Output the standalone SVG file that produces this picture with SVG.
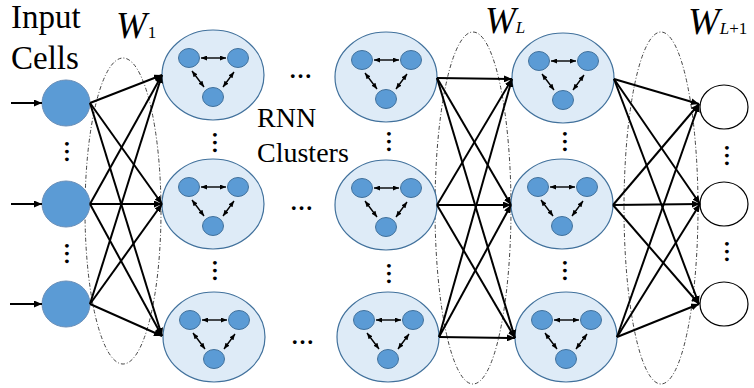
<svg xmlns="http://www.w3.org/2000/svg" xmlns:xlink="http://www.w3.org/1999/xlink" width="754" height="388" viewBox="0 0 754 388">
<style>
text{font-family:'Liberation Serif','Times New Roman','DejaVu Serif',serif;fill:#000}
.w{font-style:italic}
.sub{font-size:17px}
.dots{font-weight:bold;font-size:23px}
.conn{stroke:#000;stroke-width:2;fill:none;marker-end:url(#ah)}
.inner{stroke:#000;stroke-width:1.4;fill:none;marker-end:url(#sh);marker-start:url(#shs)}
.cl{fill:#DEEBF7;stroke:#41719C;stroke-width:1.2}
.nd{fill:#5B9BD5;stroke:#41719C;stroke-width:1}
.in{fill:#5B9BD5;stroke:#6A8FB8;stroke-width:1}
.out{fill:#fff;stroke:#000;stroke-width:1.2}
.grp{fill:none;stroke:#444;stroke-width:1;stroke-dasharray:4 2 1 2}
</style>
<defs>
<marker id="ah" viewBox="0 0 8 7" refX="8" refY="3.5" markerWidth="8" markerHeight="7" markerUnits="userSpaceOnUse" orient="auto"><path d="M0,0 L8,3.5 L0,7 z" fill="#000"/></marker>
<marker id="sh" viewBox="0 0 6 5" refX="6" refY="2.5" markerWidth="6" markerHeight="5" markerUnits="userSpaceOnUse" orient="auto"><path d="M0,0 L6,2.5 L0,5 z" fill="#000"/></marker>
<marker id="shs" viewBox="0 0 6 5" refX="0" refY="2.5" markerWidth="6" markerHeight="5" markerUnits="userSpaceOnUse" orient="auto"><path d="M6,0 L0,2.5 L6,5 z" fill="#000"/></marker>
<g id="cluster">
<ellipse class="cl" cx="0" cy="0" rx="51" ry="45"/>
<ellipse class="nd" cx="-24" cy="-17" rx="10.5" ry="9.5"/>
<ellipse class="nd" cx="25" cy="-17" rx="10.5" ry="9.5"/>
<ellipse class="nd" cx="0" cy="22" rx="10.5" ry="9.5"/>
<line class="inner" x1="-12" y1="-17" x2="13" y2="-17"/>
<line class="inner" x1="-21" y1="-4" x2="-9" y2="12"/>
<line class="inner" x1="21" y1="-3" x2="10" y2="12"/>
</g>
</defs>

<g id="weight-groups">
<ellipse class="grp" cx="123" cy="211" rx="38" ry="153"/>
<ellipse class="grp" cx="473" cy="208" rx="38" ry="176"/>
<ellipse class="grp" cx="661" cy="208" rx="37" ry="176"/>
</g>

<g id="in1"><ellipse class="in" cx="66" cy="103" rx="24" ry="23"/></g>
<g id="in2"><ellipse class="in" cx="66" cy="204" rx="24" ry="23"/></g>
<g id="in3"><ellipse class="in" cx="66" cy="304" rx="24" ry="23"/></g>

<g id="c11"><use xlink:href="#cluster" x="213" y="75"/></g>
<g id="c12"><use xlink:href="#cluster" x="213" y="204"/></g>
<g id="c13"><use xlink:href="#cluster" x="214" y="337"/></g>
<g id="c21"><use xlink:href="#cluster" x="386" y="77"/></g>
<g id="c22"><use xlink:href="#cluster" x="386" y="205"/></g>
<g id="c23"><use xlink:href="#cluster" x="388" y="337"/></g>
<g id="c31"><use xlink:href="#cluster" x="563" y="78"/></g>
<g id="c32"><use xlink:href="#cluster" x="562" y="204"/></g>
<g id="c33"><use xlink:href="#cluster" x="566" y="337"/></g>

<g id="out1"><ellipse class="out" cx="724" cy="107" rx="24" ry="22"/></g>
<g id="out2"><ellipse class="out" cx="724" cy="204" rx="24" ry="22"/></g>
<g id="out3"><ellipse class="out" cx="724" cy="304" rx="24" ry="22"/></g>

<g id="connectors">
<line class="conn" x1="11" y1="103" x2="42" y2="103"/>
<line class="conn" x1="11" y1="204" x2="42" y2="204"/>
<line class="conn" x1="10" y1="304" x2="42" y2="304"/>

<line class="conn" x1="90" y1="103" x2="162" y2="75"/>
<line class="conn" x1="90" y1="103" x2="162" y2="204"/>
<line class="conn" x1="90" y1="103" x2="162" y2="336"/>
<line class="conn" x1="90" y1="204" x2="162" y2="75"/>
<line class="conn" x1="90" y1="204" x2="162" y2="204"/>
<line class="conn" x1="90" y1="204" x2="162" y2="336"/>
<line class="conn" x1="90" y1="304" x2="162" y2="75"/>
<line class="conn" x1="90" y1="304" x2="162" y2="204"/>
<line class="conn" x1="90" y1="304" x2="162" y2="336"/>

<line class="conn" x1="437" y1="78" x2="512" y2="79"/>
<line class="conn" x1="437" y1="78" x2="511" y2="205"/>
<line class="conn" x1="437" y1="78" x2="515" y2="338"/>
<line class="conn" x1="437" y1="205" x2="512" y2="79"/>
<line class="conn" x1="437" y1="205" x2="511" y2="205"/>
<line class="conn" x1="437" y1="205" x2="515" y2="338"/>
<line class="conn" x1="439" y1="337" x2="512" y2="79"/>
<line class="conn" x1="439" y1="337" x2="511" y2="205"/>
<line class="conn" x1="439" y1="337" x2="515" y2="338"/>

<line class="conn" x1="614" y1="79" x2="699" y2="104"/>
<line class="conn" x1="614" y1="79" x2="700" y2="204"/>
<line class="conn" x1="614" y1="79" x2="699" y2="304"/>
<line class="conn" x1="613" y1="205" x2="699" y2="104"/>
<line class="conn" x1="613" y1="205" x2="700" y2="204"/>
<line class="conn" x1="613" y1="205" x2="699" y2="304"/>
<line class="conn" x1="617" y1="337" x2="699" y2="104"/>
<line class="conn" x1="617" y1="337" x2="700" y2="204"/>
<line class="conn" x1="617" y1="337" x2="699" y2="304"/>
</g>

<g id="labels">
<text x="11" y="28" font-size="33">Input</text>
<text x="11" y="69" font-size="33">Cells</text>
<text x="257" y="127" font-size="28">RNN</text>
<text x="257" y="162" font-size="28">Clusters</text>
<text x="116" y="38"><tspan class="w" font-size="37">W</tspan><tspan class="sub" dx="1">1</tspan></text>
<text x="485" y="33"><tspan class="w" font-size="37">W</tspan><tspan class="sub w">L</tspan></text>
<text x="688" y="34"><tspan class="w" font-size="38">W</tspan><tspan class="sub w">L</tspan><tspan class="sub">+1</tspan></text>
</g>

<g id="ellipsis">
<text class="dots" x="289" y="78">…</text>
<text class="dots" x="290" y="210">…</text>
<text class="dots" x="291" y="344">…</text>
<text class="dots" transform="translate(65,140) rotate(90)">…</text>
<text class="dots" transform="translate(65,242) rotate(90)">…</text>
<text class="dots" transform="translate(213,131) rotate(90)">…</text>
<text class="dots" transform="translate(213,259) rotate(90)">…</text>
<text class="dots" transform="translate(387,130) rotate(90)">…</text>
<text class="dots" transform="translate(387,262) rotate(90)">…</text>
<text class="dots" transform="translate(563,130) rotate(90)">…</text>
<text class="dots" transform="translate(563,259) rotate(90)">…</text>
<text class="dots" transform="translate(725,144) rotate(90)">…</text>
<text class="dots" transform="translate(725,240) rotate(90)">…</text>
</g>
</svg>
